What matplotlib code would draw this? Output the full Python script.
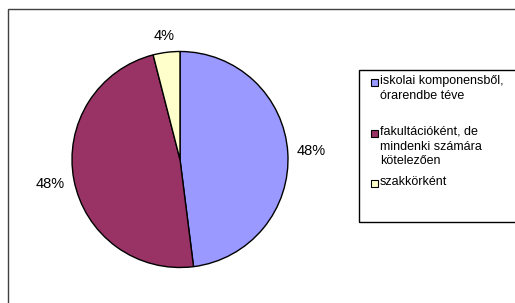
"""
Kördiagram: a foglalkozások formája
"""
import numpy as np
import matplotlib.pyplot as plt
from matplotlib.patches import Rectangle

plt.rcParams['font.family'] = ['Liberation Sans', 'DejaVu Sans']

labels = ['iskolai komponensből,\nórarendbe téve',
          'fakultációként, de\nmindenki számára\nkötelezően',
          'szakkörként']
values = [12, 12, 1]
colors = ['#9999FF', '#993366', '#FFFFCC']

W, H = 515, 303
fig = plt.figure(figsize=(W / 100, H / 100), dpi=100)
ax = fig.add_axes([0, 0, 1, 1])

# külső keret (jobb és alsó széle kilóg a képből)
ax.add_patch(Rectangle((7.5, -10), W + 20, H - 9 + 10, fill=False,
                       edgecolor='#404040', linewidth=1.0))

cx, cy, r = 180, H - 159.5, 108
wedges, texts, autotexts = ax.pie(
    values, colors=colors, startangle=90, counterclock=False,
    center=(cx, cy), radius=r, frame=True,
    autopct='%1.0f%%', pctdistance=1.2,
    wedgeprops=dict(edgecolor='black', linewidth=1.0),
    textprops=dict(fontsize=10.5, color='black'))
ax.set_xlim(0, W)
ax.set_ylim(0, H)
ax.axis('off')

# címkék: a szöveg közelebbi széle állandó távolságra a körívtől
fig.canvas.draw()
renderer = fig.canvas.get_renderer()
for w, t in zip(wedges, autotexts):
    ang = np.deg2rad((w.theta1 + w.theta2) / 2)
    ux, uy = np.cos(ang), np.sin(ang)
    bb = t.get_window_extent(renderer)
    hw, hh = bb.width / 2, bb.height / 2 - 1
    d = r + 9 + hw * abs(ux) + hh * abs(uy)
    t.set_position((cx + d * ux, cy + d * uy))
    t.set_ha('center')
    t.set_va('center')

# jelmagyarázat
ax.add_patch(Rectangle((359, H - 222), 200, 152, fill=False,
                       edgecolor='black', linewidth=1.0))
rows = [82, 133, 183]
for lab, col, y in zip(labels, colors, rows):
    ax.add_patch(Rectangle((371, H - y - 3.5), 7, 7, facecolor=col,
                           edgecolor='black', linewidth=0.8))
    ax.text(380, H - y + 7, lab, fontsize=9, va='top', ha='left',
            linespacing=1.3)

plt.savefig('out.png', dpi=100, facecolor='white')
plt.close()
